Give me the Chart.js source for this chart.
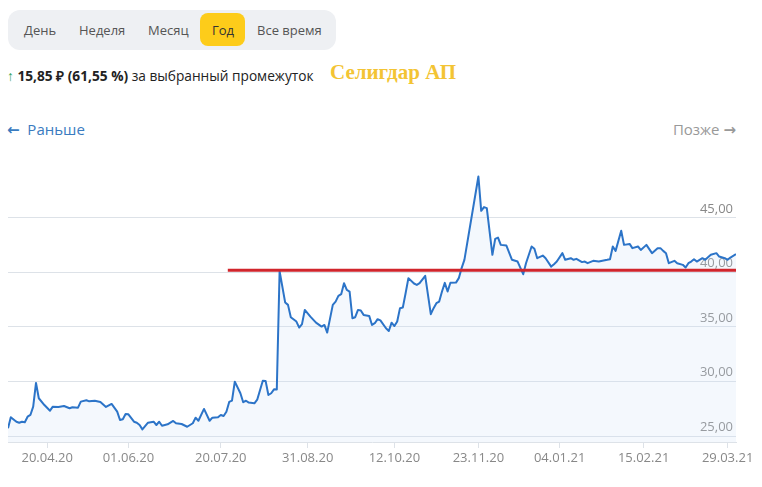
<!DOCTYPE html>
<html><head><meta charset="utf-8">
<script src="https://cdn.jsdelivr.net/npm/chart.js@4.4.1/dist/chart.umd.min.js"></script>
<style>
html,body{margin:0;padding:0;background:#fff;width:762px;height:487px;overflow:hidden;font-family:"Open Sans",sans-serif;}
#tabs{position:absolute;left:8px;top:10px;width:328px;height:40px;background:#eef0f3;border-radius:12px;}
.tab{position:absolute;top:0;height:40px;line-height:40px;font-size:13px;color:#555;}
#sel{position:absolute;left:192px;top:3px;width:45px;height:33px;background:#fdcc1a;border-radius:8px;}
#stat{position:absolute;left:7px;top:66px;font-size:13.7px;color:#222;white-space:nowrap;}
#stat .up{color:#2aa055;}
#stat b{font-weight:700;}
#title{position:absolute;left:330px;top:60px;font-family:"Liberation Serif",serif;font-weight:700;font-size:21px;color:#f3c434;white-space:nowrap;}
#prev{position:absolute;left:7px;top:119px;font-size:15px;color:#3a7bbf;white-space:nowrap;}
#next{position:absolute;right:26px;top:119px;font-size:15px;color:#999;white-space:nowrap;}
.arr{font-family:"DejaVu Sans",sans-serif;font-weight:700;font-size:15px;line-height:15px;}
#cv{position:absolute;left:0;top:150px;}
</style></head>
<body>
<div id="tabs">
  <div id="sel"></div>
  <div class="tab" style="left:16px">День</div>
  <div class="tab" style="left:71px">Неделя</div>
  <div class="tab" style="left:140px">Месяц</div>
  <div class="tab" style="left:204px;color:#333">Год</div>
  <div class="tab" style="left:249px">Все время</div>
</div>
<div id="stat"><span class="up">↑</span> <b>15,85 ₽ (61,55 %)</b> за выбранный промежуток</div>
<div id="title">Селигдар АП</div>
<div id="prev"><span class="arr">←</span>&nbsp;&nbsp;Раньше</div>
<div id="next">Позже&nbsp;<span class="arr">→</span></div>
<canvas id="cv" width="762" height="337"></canvas>
<script>
// trading-day index of each vertex and its price (RUB)
const dayIndex = [0,1,3,4,5,6,7,8,9,10,11,13,15,16,18,20,22,23,25,26,28,29,31,33,35,37,39,40,41,42,43,45,46,47,48,50,52,53,54,55,57,59,60,62,64,66,67,68,70,72,73,75,76,77,78,79,80,81,83,84,85,86,88,89,91,92,93,94,95,96,97,99,100,101,103,104,105,106,108,110,112,113,114,116,117,118,119,120,121,122,123,124,125,126,127,129,130,131,132,133,135,136,137,138,139,140,141,142,143,145,146,147,149,151,152,153,154,155,156,157,158,160,161,162,163,168,169,170,171,173,174,175,176,178,180,182,184,185,187,188,189,191,192,194,195,196,198,199,201,202,203,205,206,207,209,211,214,215,216,217,219,220,222,223,225,226,228,230,232,233,234,235,236,238,239,241,242,243,244,245,246,248,249,251,253,254,256,257,258,260];
const price = [25.71,26.72,26.31,26.22,26.31,26.26,26.77,26.93,27.69,29.86,28.46,27.84,27.32,27.69,27.66,27.75,27.54,27.63,27.60,28.15,28.28,28.18,28.24,28.12,27.66,27.94,27.23,26.47,26.53,27.02,26.99,26.31,26.22,26.01,25.61,26.22,26.31,26.01,26.31,25.94,26.07,26.38,26.17,26.10,25.85,26.17,26.68,26.40,27.48,26.40,26.68,26.72,26.93,26.83,27.23,28.12,28.24,29.98,28.92,28.10,28.23,28.06,28.00,28.33,30.07,30.05,28.76,28.92,29.28,29.27,40.10,37.23,37.02,35.89,35.49,34.94,35.25,36.56,35.94,35.39,35.03,35.18,34.48,37.02,37.32,37.84,38.00,39.01,38.39,38.24,35.80,35.89,36.56,36.50,36.10,36.01,35.18,35.34,35.71,35.60,34.88,34.63,35.39,35.08,35.49,36.72,36.77,38.09,39.47,38.98,38.85,39.01,39.68,36.17,36.72,37.17,37.32,38.24,39.04,38.24,39.05,39.06,39.47,40.39,41.15,48.79,45.64,45.98,45.89,41.61,43.07,43.19,42.52,42.46,41.15,40.99,39.83,40.84,42.37,42.16,41.30,41.54,41.30,40.53,40.75,40.99,41.76,41.15,41.30,41.15,41.24,40.94,40.99,40.84,41.06,40.99,41.15,41.21,42.37,41.97,43.81,42.52,42.61,42.22,42.37,42.06,42.52,41.76,42.22,42.22,41.97,41.76,40.84,41.06,40.84,40.69,40.44,40.84,40.99,41.21,40.99,41.30,41.15,41.61,41.76,41.45,41.30,41.15,41.36,41.67];
// horizontal level line
const levelFrom = 78.5, levelTo = 260, levelValue = 40.2;
// axis ticks
const tickIdx = [14,43,76,107,138,168,197,227,257];
const tickLabels = ['20.04.20','01.06.20','20.07.20','31.08.20','12.10.20','23.11.20','04.01.21','15.02.21','29.03.21'];
const yTicks = [25,30,35,40,45];

const series = dayIndex.map((d,i)=>({x:d,y:price[i]}));
const level = [{x:levelFrom,y:levelValue},{x:levelTo,y:levelValue}];
const FONT = {family:'"Open Sans", sans-serif', size:13};

new Chart(document.getElementById('cv'), {
  type:'line',
  data:{datasets:[
    {data:level, borderColor:'#d1252c', borderWidth:3, pointRadius:0, fill:false, order:0},
    {data:series, borderColor:'#2c74c8', borderWidth:2, pointRadius:0, tension:0,
     fill:'start', backgroundColor:'rgba(205,224,246,0.22)', borderJoinStyle:'round', order:1}
  ]},
  options:{
    responsive:false, animation:false, devicePixelRatio:1,
    layout:{padding:{left:8,right:26,top:10,bottom:15}},
    plugins:{legend:{display:false}, tooltip:{enabled:false}},
    scales:{
      x:{type:'linear', min:0, max:260,
        afterBuildTicks:(s)=>{s.ticks = tickIdx.map(v=>({value:v}));},
        afterFit:(s)=>{s.height = 30;},
        grid:{drawOnChartArea:false, drawTicks:true, tickLength:6, color:'#dde2e8'},
        border:{display:true, color:'#dde2e8'},
        ticks:{autoSkip:false, maxRotation:0, padding:2, color:'#888', font:FONT,
          callback:(v)=>tickLabels[tickIdx.indexOf(v)]}
      },
      y:{type:'linear', position:'right', min:24.45, max:50.3,
        afterBuildTicks:(s)=>{s.ticks = yTicks.map(v=>({value:v}));},
        afterFit:(s)=>{s.width = 0;},
        grid:{drawTicks:false, color:'#dde2e8'},
        border:{display:false},
        ticks:{mirror:true, padding:-3, labelOffset:-9, color:'#888', font:FONT,
          callback:(v)=>v.toFixed(2).replace('.',',')}
      }
    }
  }
});
</script>
</body></html>
